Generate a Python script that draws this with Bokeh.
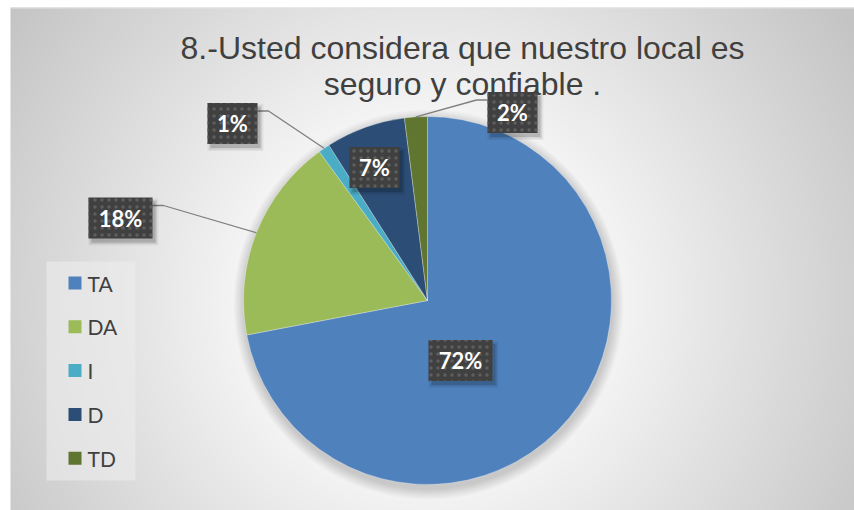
import numpy as np
from bokeh.plotting import figure
from bokeh.models import Range1d, ColumnDataSource
from bokeh.core.properties import value
from bokeh.embed import file_html
from bokeh.resources import INLINE

# ---------------- data ----------------
TITLE_LINES = ["8.-Usted considera que nuestro local es", "seguro y confiable ."]
categories = ["TA", "DA", "I", "D", "TD"]
percent = [72, 18, 1, 7, 2]
colors = ["#4F81BD", "#9BBB59", "#4BACC6", "#2C4D75", "#5F7530"]

# ---------------- layout (page pixels) ----------------
W, H = 854, 510
X0, Y0 = 0, 0
CX, CY, R = 427, 300, 184
LABEL_OFFSETS = [(33, 60), (-307, -82.5), (-195, -177), (-53, -133), (85, -188)]
BOX_H = 41

p = figure(width=W, height=H, x_range=Range1d(X0, X0 + W), y_range=Range1d(-(Y0 + H), -Y0),
           output_backend="svg", toolbar_location=None, min_border=0)
p.axis.visible = False
p.grid.visible = False
p.outline_line_color = None
p.background_fill_color = "white"
p.border_fill_color = "white"

# ---------------- background radial gradient ----------------
gx0, gx1, gy0, gy1 = 10, X0 + W, 7, Y0 + H
gw, gh = gx1 - gx0, gy1 - gy0
xs = gx0 + np.arange(gw) + 0.5
ys_page = gy1 - np.arange(gh) - 0.5  # row 0 at bottom
XX, YY = np.meshgrid(xs, ys_page)
d = np.hypot(XX - CX, YY - CY)
t = np.clip((d - 190) / (510 - 190), 0, 1)
c = (244 - t * (244 - 196)).astype(np.uint8)
img = np.zeros((gh, gw), dtype=np.uint32)
view = img.view(dtype=np.uint8).reshape((gh, gw, 4))
view[:, :, 0] = c
view[:, :, 1] = c
view[:, :, 2] = c
view[:, :, 3] = 255
p.image_rgba(image=[img], x=gx0, y=-gy1, dw=gw, dh=gh)
p.segment(x0=gx0, x1=gx1, y0=-gy0 - 0.5, y1=-gy0 - 0.5, line_color="#e2e2e2", line_width=1)

# ---------------- pie shadow ----------------
for k in range(1, 12):
    p.circle(x=CX + 1, y=-(CY + 4), radius=R + k, fill_color="black", fill_alpha=0.016, line_color=None)

# ---------------- pie ----------------
total = float(sum(percent))
cum = np.concatenate([[0.0], np.cumsum(percent)]) / total
start = np.pi / 2 - 2 * np.pi * cum[:-1]
end = np.pi / 2 - 2 * np.pi * cum[1:]
src = ColumnDataSource(dict(start=start, end=end, color=colors, cat=categories))
p.wedge(x=CX, y=-CY, radius=R, start_angle="start", end_angle="end", direction="clock",
        fill_color="color", line_color="white", line_width=0.6, line_alpha=0.5, source=src)

# ---------------- legend ----------------
p.quad(left=46, right=135, top=-261, bottom=-480, fill_color="#ececec", fill_alpha=0.6, line_color=None)
leg_y = [-(282.5 + i * 43.8) for i in range(len(categories))]
p.rect(x=74.5, y=leg_y, width=13, height=13, fill_color=colors, line_color=None)
p.text(x=87, y=leg_y, text=categories, text_font=value("Lato"), text_font_size="21px",
       text_color="#404040", text_align="left", text_baseline="middle")

# ---------------- data labels ----------------
labels = [f"{round(v / total * 100)}%" for v in percent]
mid = np.pi * (cum[:-1] + cum[1:])
lead_xs, lead_ys = [], []
bxs, bys, bws = [], [], []
for i, lab in enumerate(labels):
    dx, dy = LABEL_OFFSETS[i]
    bx, by = CX + dx, CY + dy
    w = 22 + 14 * len(lab)
    bxs.append(bx); bys.append(by); bws.append(w)
    if np.hypot(dx, dy) > R:
        ax = CX + R * np.sin(mid[i])
        ay = CY - R * np.cos(mid[i])
        ly = by - BOX_H / 2 + 8
        if ax > bx:
            ex = bx + w / 2
            elb = ex + 11
        else:
            ex = bx - w / 2
            elb = ex - 11
        lead_xs.append([ax, elb, ex])
        lead_ys.append([-ay, -ly, -ly])

p.multi_line(xs=lead_xs, ys=lead_ys, line_color="#7f7f7f", line_width=1.3)

for ox, oy, grow, a in [(3, 4, 6, 0.05), (3, 4, 3, 0.08), (3, 4, 0, 0.14)]:
    p.rect(x=[b + ox for b in bxs], y=[-(b + oy) for b in bys], width=[w + grow for w in bws],
           height=BOX_H + grow, fill_color="black", fill_alpha=a, line_color=None)

p.rect(x=bxs, y=[-b for b in bys], width=bws, height=BOX_H, fill_color="#404040",
       hatch_pattern="dot", hatch_color="#5e5e5e", hatch_scale=7, hatch_weight=2, line_color=None)
p.text(x=bxs, y=[-b for b in bys], text=labels, text_font=value("Lato"), text_font_style="bold",
       text_font_size="22px", text_color="white", text_align="center", text_baseline="middle")

# ---------------- title ----------------
p.text(x=462, y=[-47, -83], text=TITLE_LINES, text_font=value("Liberation Sans"),
       text_font_size="32px", text_color="#404040", text_align="center", text_baseline="alphabetic")

open("out.html", "w").write(file_html(p, INLINE))
